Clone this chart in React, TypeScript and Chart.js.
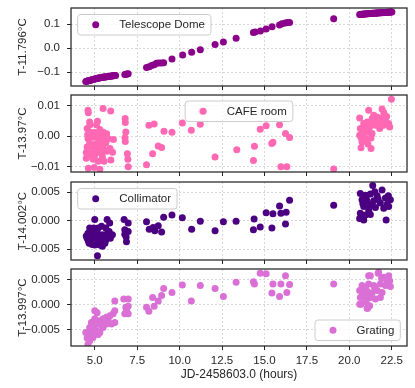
import React, { useEffect, useRef } from "react";
import { Chart, registerables } from "chart.js";

Chart.register(...registerables);

// ---------------- DATA ----------------
const xTicks = [5.0, 7.5, 10.0, 12.5, 15.0, 17.5, 20.0, 22.5];
const xTickLabels = ["5.0", "7.5", "10.0", "12.5", "15.0", "17.5", "20.0", "22.5"];
const xTitle = "JD-2458603.0 (hours)";
const xRange = [3.6, 23.4];

const domeLabel = "Telescope Dome";
const domeAxisLabel = "T-11.796°C";
const domeTicks = [-0.1, 0.0, 0.1];
const domeTickLabels = ["−0.1", "0.0", "0.1"];
const domeRange = [-0.158, 0.167];
const domePoints: [number, number][] = [
  [4.47, -0.139], [4.52, -0.138], [4.58, -0.137], [4.63, -0.136], [4.68, -0.135], [4.74, -0.134],
  [4.79, -0.133], [4.84, -0.132], [4.9, -0.131], [4.95, -0.13], [5.0, -0.129], [5.06, -0.128],
  [5.11, -0.127], [5.16, -0.126], [5.22, -0.125], [5.27, -0.125], [5.32, -0.124], [5.38, -0.123],
  [5.43, -0.122], [5.48, -0.122], [5.54, -0.121], [5.59, -0.12], [5.64, -0.12], [5.7, -0.119],
  [5.75, -0.118], [5.8, -0.118], [5.86, -0.117], [5.91, -0.117], [5.96, -0.116], [6.02, -0.116],
  [6.07, -0.115], [6.12, -0.115], [6.18, -0.114], [6.23, -0.114],
  [6.77, -0.11], [6.85, -0.109], [6.9, -0.108], [6.97, -0.107],
  [8.05, -0.081], [8.21, -0.078], [8.35, -0.073], [8.5, -0.069], [8.64, -0.063], [8.78, -0.062],
  [8.94, -0.062], [9.06, -0.061], [9.55, -0.046], [10.18, -0.029], [10.71, -0.017], [11.22, -0.007],
  [12.09, 0.015], [12.58, 0.025], [13.33, 0.041], [14.35, 0.065], [14.45, 0.067], [14.76, 0.071],
  [15.1, 0.079], [15.45, 0.089], [15.89, 0.096], [16.03, 0.101], [16.22, 0.105], [16.36, 0.107],
  [16.48, 0.107], [19.08, 0.122],
  [20.61, 0.14], [20.66, 0.14], [20.71, 0.141], [20.76, 0.141], [20.81, 0.141], [20.86, 0.142],
  [20.91, 0.142], [20.96, 0.142], [21.01, 0.143], [21.06, 0.143], [21.11, 0.143], [21.16, 0.144],
  [21.21, 0.144], [21.26, 0.144], [21.31, 0.144], [21.36, 0.145], [21.41, 0.145], [21.46, 0.145],
  [21.51, 0.145], [21.56, 0.146], [21.61, 0.146], [21.66, 0.146], [21.71, 0.146], [21.76, 0.147],
  [21.81, 0.147], [21.86, 0.147], [21.91, 0.147], [21.96, 0.148], [22.01, 0.148], [22.06, 0.148],
  [22.11, 0.148], [22.16, 0.148], [22.21, 0.149], [22.26, 0.149], [22.31, 0.149], [22.36, 0.149],
  [22.41, 0.15], [22.46, 0.15], [22.51, 0.15],
];

const cafeLabel = "CAFE room";
const cafeAxisLabel = "T-13.97°C";
const cafeTicks = [-0.01, 0.0, 0.01];
const cafeTickLabels = ["−0.01", "0.00", "0.01"];
const cafeRange = [-0.0117, 0.0135];
const cafePoints: [number, number][] = [
  [4.6, 0.0085], [4.62, 0.0077], [5.49, 0.0091], [5.94, 0.0083],
  [4.7, 0.0047], [4.72, 0.0038], [5.16, 0.0049], [5.1, 0.0038], [6.79, 0.0058], [6.8, 0.0045],
  [4.55, 0.0025], [5.3, 0.0022], [4.58, 0.0005],
  [4.75, 0.0013], [5.0, 0.0012], [5.25, 0.001], [5.5, 0.0013], [5.7, 0.0008], [6.83, 0.0014],
  [4.6, -0.0007], [4.9, -0.0003], [5.2, -0.0006], [5.5, -0.0002], [5.8, -0.0008], [6.1, -0.0011],
  [6.78, -0.0005], [6.8, -0.0017], [5.6, -0.0012],
  [4.7, -0.0023], [5.05, -0.0025], [5.35, -0.0022], [5.65, -0.0021],
  [5.9, -0.004], [4.9, -0.0042], [5.2, -0.0045], [5.5, -0.0038], [4.55, -0.0035], [5.3, -0.0035],
  [4.5, -0.0053], [4.8, -0.0055], [5.1, -0.0052], [5.4, -0.0056], [5.7, -0.0049], [6.05, -0.0052],
  [4.58, -0.0062], [5.0, -0.0062], [5.45, -0.0068],
  [4.5, -0.0072], [4.9, -0.0075], [5.2, -0.0082], [5.55, -0.0082], [5.95, -0.0078],
  [6.92, -0.0057], [6.95, -0.0075],
  [4.62, -0.0105], [4.97, -0.0102], [5.3, -0.0108], [6.97, -0.01],
  [8.05, -0.0093], [8.19, 0.0036], [8.5, 0.004], [8.41, -0.0057], [8.74, -0.0032], [8.94, -0.0037],
  [9.08, 0.0016], [9.55, 0.0013], [10.16, 0.0043], [10.69, 0.002], [11.22, 0.0039], [11.3, 0.0082],
  [12.09, -0.0068], [13.37, -0.0044], [14.35, -0.0079], [14.41, -0.0033], [14.75, 0.0023],
  [15.1, 0.0034], [15.43, -0.0024], [15.5, -0.002], [15.89, 0.0038], [15.97, -0.01], [16.32, -0.01],
  [16.24, 0.0009], [16.48, -0.0004], [19.08, -0.0107],
  [22.48, 0.0121], [21.14, 0.0085], [21.93, 0.0089], [22.03, 0.0078], [20.61, 0.006], [21.44, 0.0069],
  [21.64, 0.0063], [22.13, 0.0052], [22.32, 0.0042], [22.38, 0.003], [20.85, 0.0042], [21.05, 0.0047],
  [21.24, 0.0036], [21.54, 0.0036], [21.79, 0.0025], [20.65, 0.0025], [20.95, 0.002], [21.14, 0.0014],
  [21.34, 0.0009], [20.61, 0.0003], [20.85, -0.0002], [21.05, -0.0008], [21.28, -0.0006],
  [20.75, -0.0019], [20.95, -0.0013], [20.69, -0.0038], [21.28, -0.004], [21.83, 0.0047],
  [22.03, 0.0036], [21.7, 0.0055], [21.35, 0.0058], [20.8, 0.001], [21.0, 0.0028], [21.2, 0.003],
  [21.5, 0.0045], [21.9, 0.006], [22.2, 0.0065], [20.7, -0.0005], [21.1, -0.0025],
];

const collLabel = "Collimator";
const collAxisLabel = "T-14.002°C";
const collTicks = [-0.005, 0.0, 0.005];
const collTickLabels = ["−0.005", "0.000", "0.005"];
const collRange = [-0.00694, 0.00682];
const collPoints: [number, number][] = [
  [5.0, 0.0002], [5.73, 0.0002], [6.73, 0.0002], [6.97, -0.0004],
  [4.7, -0.0013], [4.94, -0.0013], [5.2, -0.0013], [5.4, -0.001], [5.65, -0.0013], [5.88, -0.0004],
  [4.6, -0.0022], [4.9, -0.0025], [5.16, -0.0022], [5.45, -0.0025], [5.75, -0.0022], [6.04, -0.0025],
  [6.77, -0.0016], [6.77, -0.0024], [6.97, -0.0019],
  [4.55, -0.0031], [4.8, -0.0034], [5.1, -0.0031], [5.39, -0.0037], [5.65, -0.0034], [5.92, -0.0031],
  [4.67, -0.004], [5.0, -0.0043], [5.3, -0.0043], [5.6, -0.004], [6.87, -0.0037], [5.16, -0.0062],
  [4.5, -0.0027], [4.75, -0.0019], [5.05, -0.0018], [5.3, -0.0028], [5.55, -0.0031], [5.85, -0.0019],
  [4.85, -0.0042], [5.45, -0.0045], [5.2, -0.0037], [4.62, -0.0036], [5.95, -0.0026], [6.85, -0.0029],
  [8.05, -0.0002], [8.21, -0.0015], [8.44, -0.0012], [8.54, -0.0018], [8.74, -0.0009], [8.94, -0.002],
  [9.06, 0.0006], [9.55, 0.001], [10.16, 0.0005], [10.71, -0.0015], [11.22, -0.0001],
  [12.09, -0.0018], [12.58, -0.0002], [13.33, -0.0001], [14.39, 0.0003], [14.35, -0.0016],
  [14.75, -0.0011], [15.1, 0.0014], [15.5, 0.0012], [15.44, -0.0013], [15.89, 0.0026], [15.97, 0.0013],
  [16.28, 0.0015], [16.48, 0.0036], [16.24, -0.0006], [19.08, 0.0027],
  [21.38, 0.0062], [21.93, 0.0054], [20.65, 0.0048], [20.95, 0.0045], [21.24, 0.0047], [21.64, 0.0044],
  [22.13, 0.004], [22.42, 0.0037], [20.75, 0.0037], [21.05, 0.0034], [21.44, 0.0035], [21.83, 0.0031],
  [22.23, 0.0029], [20.85, 0.0025], [21.14, 0.0022], [21.54, 0.0023], [22.03, 0.0022], [22.32, 0.0025],
  [20.65, 0.0013], [20.95, 0.001], [21.24, 0.0011], [20.61, 0.0004], [20.85, 0.0001], [22.17, 0.0001],
  [21.0, 0.0039], [21.3, 0.0028], [21.7, 0.0038], [22.3, 0.0044], [20.8, 0.003], [21.5, 0.0051],
  [21.15, 0.0017], [20.75, 0.0007],
];

const gratLabel = "Grating";
const gratAxisLabel = "T-13.997°C";
const gratTicks = [-0.005, 0.0, 0.005];
const gratTickLabels = ["−0.005", "0.000", "0.005"];
const gratRange = [-0.00816, 0.00704];
const gratPoints: [number, number][] = [
  [4.6, -0.0078], [4.7, -0.0071], [4.55, -0.0066], [4.66, -0.0061], [4.47, -0.0055], [4.8, -0.0055],
  [4.9, -0.0048], [4.7, -0.0045], [5.1, -0.0051], [5.3, -0.0055], [5.2, -0.0059], [4.8, -0.0035],
  [5.1, -0.0038], [5.4, -0.0041], [5.3, -0.0032], [5.49, -0.0028], [5.69, -0.0025], [5.89, -0.0022],
  [6.08, -0.0018], [6.18, -0.0012], [5.0, -0.0012], [5.14, -0.0016], [5.59, -0.0035], [5.79, -0.0032],
  [5.99, -0.0038], [6.18, -0.0035], [5.69, -0.0038], [5.0, -0.0028], [5.49, -0.0045], [4.9, -0.0065],
  [6.18, 0.0007], [6.71, 0.0011], [6.97, 0.0011], [6.83, -0.0005], [6.97, -0.0003], [6.87, -0.0012],
  [6.97, -0.0018], [6.77, -0.0018],
  [8.05, -0.0005], [8.19, -0.0013], [8.41, 0.0014], [8.5, -0.0003], [8.74, 0.0007], [8.94, 0.0018],
  [9.06, 0.0032], [9.55, 0.0024], [10.16, 0.0039], [10.69, 0.0007], [11.22, 0.0038],
  [12.09, 0.0032], [12.58, 0.0016], [13.33, 0.0044], [14.35, 0.0045], [14.41, 0.0041], [14.75, 0.0062],
  [15.1, 0.0061], [15.44, 0.0023], [15.5, 0.0041], [15.89, 0.0016], [15.97, 0.0041], [16.24, 0.0057],
  [16.32, 0.0024], [16.48, 0.004], [19.08, 0.0041],
  [21.73, 0.0064], [21.24, 0.0057], [22.03, 0.0054], [22.32, 0.0057], [22.38, 0.0047], [20.75, 0.0038],
  [20.95, 0.0034], [21.14, 0.0041], [21.44, 0.0038], [21.83, 0.0041], [22.13, 0.0038], [22.42, 0.0036],
  [20.61, 0.0028], [20.85, 0.0024], [21.08, 0.0026], [21.34, 0.0023], [21.64, 0.0028], [21.93, 0.0024],
  [20.65, 0.0014], [20.95, 0.0011], [21.24, 0.0014], [21.54, 0.0011], [21.83, 0.0014], [20.69, 0.0001],
  [21.0, 0.0005], [21.2, -0.0002], [21.05, -0.0007], [21.08, -0.0007], [20.61, 0.0001], [21.7, 0.0062],
  [21.14, 0.0057], [21.5, 0.0033], [21.1, 0.0019], [20.8, 0.0019], [22.2, 0.0049], [21.9, 0.0052],
];

// ---------------- STYLE / LAYOUT ----------------
const FONT = '"Liberation Sans", Arial, sans-serif';
const TEXT = "#262626";
const GRID = "#cfcfcf";
const W = 415;
const H = 388;
const PLOT_LEFT = 71;
const PLOT_RIGHT = 407;

type Spec = {
  points: [number, number][];
  color: string;
  label: string;
  axisLabel: string;
  ticks: number[];
  tickLabels: string[];
  range: number[];
  legendLoc: "ul" | "uc" | "lr";
  top: number;
  bottom: number;
  showX: boolean;
};

const specs: Spec[] = [
  { points: domePoints, color: "#8B008B", label: domeLabel, axisLabel: domeAxisLabel, ticks: domeTicks, tickLabels: domeTickLabels, range: domeRange, legendLoc: "ul", top: 8, bottom: 86, showX: false },
  { points: cafePoints, color: "#FF69B4", label: cafeLabel, axisLabel: cafeAxisLabel, ticks: cafeTicks, tickLabels: cafeTickLabels, range: cafeRange, legendLoc: "uc", top: 95, bottom: 172, showX: false },
  { points: collPoints, color: "#4B0082", label: collLabel, axisLabel: collAxisLabel, ticks: collTicks, tickLabels: collTickLabels, range: collRange, legendLoc: "ul", top: 182, bottom: 260, showX: false },
  { points: gratPoints, color: "#DA70D6", label: gratLabel, axisLabel: gratAxisLabel, ticks: gratTicks, tickLabels: gratTickLabels, range: gratRange, legendLoc: "lr", top: 269, bottom: 346, showX: true },
];

const PAD_TOP = 4;

function zeroPad(s: any) {
  s.paddingTop = 0;
  s.paddingBottom = 0;
  s.paddingLeft = 0;
  s.paddingRight = 0;
}

function Panel({ spec }: { spec: Spec }) {
  const ref = useRef<HTMLCanvasElement | null>(null);
  const xh = spec.showX ? H - spec.bottom : 5;
  const canvasTop = spec.top - PAD_TOP;
  const canvasH = PAD_TOP + (spec.bottom - spec.top) + xh;

  useEffect(() => {
    if (!ref.current) return;
    const decor = {
      id: "decor",
      afterDatasetsDraw(chart: any) {
        const ctx = chart.ctx as CanvasRenderingContext2D;
        const ca = chart.chartArea;
        // legend
        ctx.save();
        ctx.font = `11.5px ${FONT}`;
        const tw = ctx.measureText(spec.label).width;
        const w = 41.6 + tw + 6;
        const h = 20.5;
        let bx = ca.left + 6.7;
        let by = ca.top + 6.5;
        if (spec.legendLoc === "uc") {
          bx = (ca.left + ca.right) / 2 - w / 2;
          by = ca.top + 6;
        } else if (spec.legendLoc === "lr") {
          bx = ca.right - 6.7 - w;
          by = ca.bottom - 5.5 - h;
        }
        ctx.beginPath();
        if ((ctx as any).roundRect) (ctx as any).roundRect(bx, by, w, h, 3);
        else ctx.rect(bx, by, w, h);
        ctx.fillStyle = "rgba(255,255,255,0.8)";
        ctx.fill();
        ctx.lineWidth = 1;
        ctx.strokeStyle = "#cccccc";
        ctx.stroke();
        ctx.beginPath();
        ctx.arc(bx + 18, by + h / 2, 3.5, 0, Math.PI * 2);
        ctx.fillStyle = spec.color;
        ctx.fill();
        ctx.fillStyle = TEXT;
        ctx.textBaseline = "middle";
        ctx.textAlign = "left";
        ctx.fillText(spec.label, bx + 41.6, by + h / 2 + 0.5);
        // frame
        ctx.lineWidth = 1.25;
        ctx.strokeStyle = TEXT;
        ctx.strokeRect(ca.left, ca.top, ca.right - ca.left, ca.bottom - ca.top);
        ctx.restore();
      },
    };

    const chart = new Chart(ref.current, {
      type: "scatter",
      data: {
        datasets: [
          {
            label: spec.label,
            data: spec.points.map(([x, y]) => ({ x, y })),
            backgroundColor: spec.color,
            borderWidth: 0,
            pointRadius: 3.5,
            pointHoverRadius: 3.5,
          },
        ],
      },
      options: {
        animation: false,
        responsive: false,
        devicePixelRatio: 1,
        events: [],
        layout: { autoPadding: false, padding: { left: 0, right: W - PLOT_RIGHT, top: PAD_TOP, bottom: 0 } },
        plugins: { legend: { display: false }, tooltip: { enabled: false } },
        scales: {
          x: {
            type: "linear",
            min: xRange[0],
            max: xRange[1],
            afterBuildTicks: (s: any) => {
              s.ticks = xTicks.map((v) => ({ value: v }));
            },
            afterFit: (s: any) => {
              s.height = xh;
              zeroPad(s);
            },
            ticks: {
              display: spec.showX,
              autoSkip: false,
              maxRotation: 0,
              minRotation: 0,
              padding: 4,
              color: TEXT,
              font: { family: FONT, size: 11.5 },
              callback: (_v: any, i: number) => xTickLabels[i],
            },
            grid: { color: GRID, lineWidth: 0.8, drawTicks: true, tickLength: 4, tickColor: TEXT, tickWidth: 1 },
            border: { display: false, dash: [2, 2] },
            title: {
              display: spec.showX,
              text: xTitle,
              color: TEXT,
              font: { family: FONT, size: 12 },
              padding: { top: 0, bottom: 5.8 },
            },
          },
          y: {
            type: "linear",
            min: spec.range[0],
            max: spec.range[1],
            afterBuildTicks: (s: any) => {
              s.ticks = spec.ticks.map((v) => ({ value: v }));
            },
            afterFit: (s: any) => {
              s.width = PLOT_LEFT;
              zeroPad(s);
            },
            ticks: {
              padding: 7,
              color: TEXT,
              font: { family: FONT, size: 11.5 },
              callback: (_v: any, i: number) => spec.tickLabels[i],
            },
            grid: { color: GRID, lineWidth: 0.8, drawTicks: true, tickLength: 4, tickColor: TEXT, tickWidth: 1 },
            border: { display: false, dash: [2, 2] },
            title: {
              display: true,
              text: spec.axisLabel,
              color: TEXT,
              font: { family: FONT, size: 11.5 },
              padding: { top: 16, bottom: 0 },
            },
          },
        },
      } as any,
      plugins: [decor],
    });
    return () => chart.destroy();
  }, [spec]);

  return (
    <canvas
      ref={ref}
      width={W}
      height={canvasH}
      style={{ position: "absolute", left: 0, top: canvasTop, width: W, height: canvasH }}
    />
  );
}

export default function App() {
  return (
    <div style={{ position: "fixed", left: 0, top: 0, width: W, height: H, background: "#ffffff", overflow: "hidden" }}>
      {specs.map((s, i) => (
        <Panel key={i} spec={s} />
      ))}
    </div>
  );
}
